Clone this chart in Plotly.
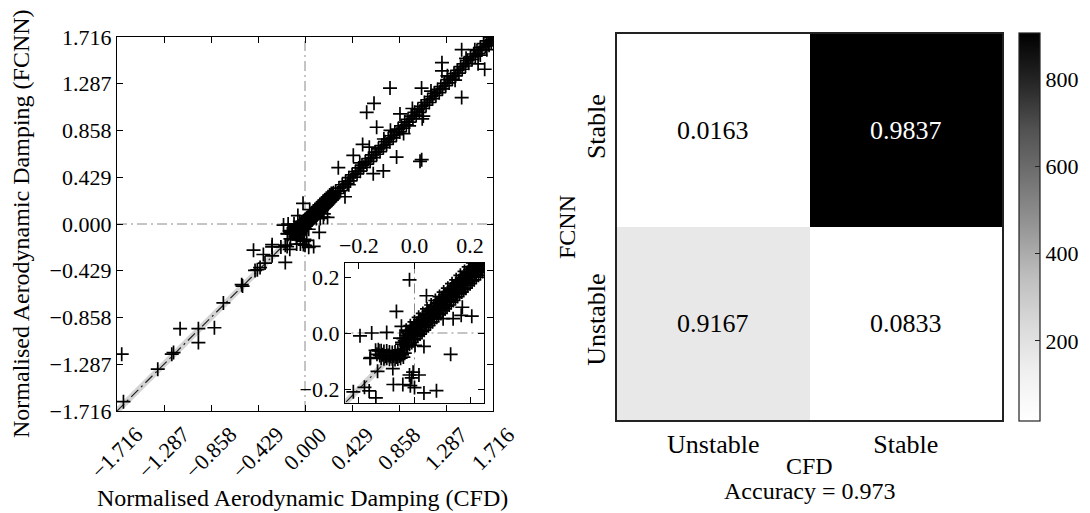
import plotly.graph_objects as go

# ---------------- data ----------------
axis_limit = 1.716
main_ticks = [-1.716, -1.287, -0.858, -0.429, 0.0, 0.429, 0.858, 1.287, 1.716]
main_tick_labels = ["−1.716", "−1.287", "−0.858", "−0.429", "0.000", "0.429", "0.858", "1.287", "1.716"]
inset_limit = 0.25
inset_ticks = [-0.2, 0.0, 0.2]

# dense band of predictions near the origin (CFD, FCNN)
band_origin = [
    (-0.04, -0.020), (-0.03, -0.008), (-0.02, 0.004), (-0.01, 0.014), (0.00, 0.026), (0.01, 0.035),
    (0.02, 0.047), (0.03, 0.056), (0.04, 0.066), (0.05, 0.077), (0.06, 0.087), (0.07, 0.096),
    (0.08, 0.106), (0.09, 0.117), (0.10, 0.127), (0.11, 0.136), (0.12, 0.146), (0.13, 0.157),
    (0.14, 0.166), (0.15, 0.176), (0.16, 0.187), (0.17, 0.196), (0.18, 0.206), (0.19, 0.217),
    (0.20, 0.226), (0.21, 0.236), (0.22, 0.247), (0.23, 0.256), (0.24, 0.266), (0.25, 0.277),
    (0.26, 0.286),
    (-0.045, -0.040), (-0.035, -0.028), (-0.025, -0.016), (-0.015, -0.004), (-0.005, 0.006),
    (0.005, 0.014), (0.015, 0.024), (0.025, 0.034), (0.035, 0.045), (0.045, 0.054), (0.055, 0.064),
    (0.065, 0.075), (0.075, 0.084), (0.085, 0.094), (0.095, 0.105), (0.105, 0.114), (0.115, 0.124),
    (0.125, 0.135), (0.135, 0.144), (0.145, 0.154), (0.155, 0.165), (0.165, 0.174), (0.175, 0.184),
    (0.185, 0.195), (0.195, 0.204), (0.205, 0.214), (0.215, 0.225), (0.225, 0.234), (0.235, 0.244),
    (0.245, 0.255), (0.255, 0.264),
    (-0.04, -0.058), (-0.03, -0.046), (-0.02, -0.034), (-0.01, -0.022), (0.00, -0.010), (0.01, 0.000),
    (0.02, 0.011), (0.03, 0.020), (0.04, 0.030), (0.05, 0.041), (0.06, 0.050), (0.07, 0.060),
    (0.08, 0.071), (0.09, 0.080), (0.10, 0.090), (0.11, 0.101), (0.12, 0.110), (0.13, 0.120),
    (0.14, 0.131), (0.15, 0.140), (0.16, 0.150), (0.17, 0.161), (0.18, 0.170), (0.19, 0.180),
    (0.20, 0.191), (0.21, 0.200), (0.22, 0.210), (0.23, 0.221), (0.24, 0.230), (0.25, 0.240),
    (0.26, 0.251),
    (-0.03, 0.010), (-0.015, 0.026), (0.0, 0.040), (0.015, 0.056), (0.03, 0.070), (0.045, 0.086),
    (0.06, 0.100), (0.075, 0.116), (0.09, 0.130), (0.105, 0.146), (0.12, 0.160), (0.135, 0.176),
    (0.15, 0.190), (0.165, 0.206), (0.18, 0.220), (0.195, 0.236), (0.21, 0.250), (0.225, 0.266),
    (0.24, 0.280),
    (-0.025, -0.050), (-0.01, -0.034), (0.005, -0.020), (0.02, -0.004), (0.035, 0.010), (0.05, 0.026),
    (0.065, 0.040), (0.08, 0.056), (0.095, 0.070), (0.11, 0.086), (0.125, 0.100), (0.14, 0.116),
    (0.155, 0.130), (0.17, 0.146), (0.185, 0.160), (0.20, 0.176), (0.215, 0.190), (0.23, 0.206),
    (0.245, 0.220), (0.26, 0.236),
    (-0.022, -0.002), (-0.007, 0.018), (0.008, 0.032), (0.023, 0.048), (0.038, 0.062), (0.053, 0.078),
    (0.068, 0.092), (0.083, 0.108), (0.098, 0.122), (0.113, 0.138), (0.128, 0.152), (0.143, 0.168),
    (0.158, 0.182), (0.173, 0.198), (0.188, 0.212), (0.203, 0.228), (0.218, 0.242), (0.233, 0.258),
    (0.248, 0.272),
    (-0.018, -0.040), (-0.003, -0.024), (0.012, -0.010), (0.027, 0.006), (0.042, 0.020), (0.057, 0.036),
    (0.072, 0.050), (0.087, 0.066), (0.102, 0.080), (0.117, 0.096), (0.132, 0.110), (0.147, 0.126),
    (0.162, 0.140), (0.177, 0.156), (0.192, 0.170), (0.207, 0.186), (0.222, 0.200), (0.237, 0.216),
    (0.252, 0.230),
]

# low-lying cluster of slightly unstable cases
cluster_low = [
    (-0.14, -0.062), (-0.13, -0.060), (-0.12, -0.063), (-0.11, -0.066), (-0.10, -0.064),
    (-0.09, -0.068), (-0.08, -0.070), (-0.07, -0.068), (-0.06, -0.066), (-0.05, -0.060),
    (-0.135, -0.076), (-0.125, -0.080), (-0.115, -0.078), (-0.105, -0.082), (-0.095, -0.080),
    (-0.085, -0.084), (-0.075, -0.082), (-0.065, -0.086), (-0.055, -0.082), (-0.045, -0.078),
    (-0.035, -0.072),
    (-0.12, -0.090), (-0.11, -0.092), (-0.10, -0.090), (-0.09, -0.094), (-0.08, -0.092),
    (-0.07, -0.095), (-0.06, -0.093), (-0.05, -0.090), (-0.04, -0.086),
]

# dense band away from the origin
band_main = [
    (0.28, 0.30), (0.31, 0.33), (0.34, 0.36), (0.37, 0.39), (0.40, 0.425), (0.43, 0.45),
    (0.46, 0.48), (0.49, 0.515), (0.52, 0.54), (0.55, 0.57), (0.58, 0.60), (0.61, 0.635),
    (0.64, 0.66), (0.67, 0.69), (0.70, 0.72), (0.73, 0.755), (0.76, 0.78), (0.79, 0.81),
    (0.82, 0.845), (0.85, 0.87), (0.88, 0.90), (0.91, 0.935), (0.94, 0.96), (0.97, 0.99),
    (1.00, 1.025), (1.03, 1.05), (1.06, 1.08), (1.09, 1.115), (1.12, 1.14), (1.15, 1.17),
    (1.18, 1.20), (1.21, 1.235), (1.24, 1.26), (1.27, 1.29), (1.30, 1.325), (1.33, 1.35),
    (1.36, 1.38), (1.39, 1.41), (1.42, 1.445), (1.45, 1.47), (1.48, 1.50), (1.51, 1.535),
    (1.54, 1.56), (1.57, 1.59), (1.60, 1.62), (1.63, 1.655), (1.66, 1.68), (1.69, 1.71),
    (1.72, 1.74),
    (0.295, 0.28), (0.325, 0.305), (0.355, 0.34), (0.385, 0.37), (0.415, 0.395), (0.445, 0.43),
    (0.475, 0.46), (0.505, 0.485), (0.535, 0.52), (0.565, 0.55), (0.595, 0.575), (0.625, 0.61),
    (0.655, 0.64), (0.685, 0.665), (0.715, 0.70), (0.745, 0.73), (0.775, 0.755), (0.805, 0.79),
    (0.835, 0.82), (0.865, 0.845), (0.895, 0.88), (0.925, 0.91), (0.955, 0.935), (0.985, 0.97),
    (1.015, 1.00), (1.045, 1.025), (1.075, 1.06), (1.105, 1.09), (1.135, 1.115), (1.165, 1.15),
    (1.195, 1.18), (1.225, 1.205), (1.255, 1.24), (1.285, 1.27), (1.315, 1.295), (1.345, 1.33),
    (1.375, 1.36), (1.405, 1.385), (1.435, 1.42), (1.465, 1.45), (1.495, 1.475), (1.525, 1.51),
    (1.555, 1.54), (1.585, 1.565), (1.615, 1.60), (1.645, 1.63), (1.675, 1.655), (1.705, 1.69),
    (1.60, 1.55), (1.66, 1.60), (1.55, 1.60), (1.68, 1.64), (1.70, 1.67), (1.47, 1.52),
    (1.08, 0.99), (1.07, 0.965), (0.90, 0.83), (0.78, 0.86), (0.72, 0.78), (0.98, 1.06),
    (1.15, 1.22), (1.30, 1.36), (1.37, 1.32), (0.50, 0.56), (0.40, 0.36), (0.95, 0.90),
]

# scattered points (CFD, FCNN)
outliers = [
    (-0.196, -0.010), (-0.154, 0.000), (-0.100, 0.002), (-0.018, 0.190), (0.043, 0.133),
    (-0.065, 0.077), (-0.047, 0.024), (0.130, -0.076), (0.002, -0.044), (0.034, -0.048),
    (-0.160, -0.091), (-0.133, -0.137), (-0.180, -0.194), (-0.163, -0.207), (-0.139, -0.232),
    (-0.078, -0.127), (-0.076, -0.184), (-0.042, -0.184), (-0.018, -0.150), (-0.005, -0.140),
    (0.016, -0.150), (-0.010, -0.160), (-0.015, -0.188), (0.000, -0.195), (0.034, -0.214),
    (0.079, -0.206), (0.139, 0.051), (0.103, 0.051), (0.168, 0.063), (0.172, 0.092),
    (0.206, 0.060), (-0.052, -0.018), (-0.045, -0.033), (-0.128, -0.064), (-0.158, -0.088),
    (1.43, 1.60), (1.25, 1.48), (1.25, 1.405), (1.64, 1.42), (1.58, 1.47), (1.43, 1.16),
    (0.776, 1.247), (1.064, 1.247), (0.563, 1.025), (0.63, 1.107), (0.654, 0.888),
    (0.867, 1.010), (0.526, 0.730), (0.587, 0.705), (0.441, 0.630), (0.304, 0.517),
    (0.623, 0.462), (0.715, 0.487), (0.836, 0.614), (1.050, 0.575), (1.065, 0.590),
    (0.365, 0.250), (-0.47, -0.24), (-0.38, -0.28), (-0.30, -0.21), (-0.18, -0.353),
    (-0.30, -0.19), (-0.22, -0.21), (-0.365, -0.359), (-0.435, -0.42), (-0.41, -0.40),
    (-0.578, -0.557), (-0.57, -0.57), (-0.745, -0.724), (-0.827, -0.952), (-0.973, -0.961),
    (-0.973, -1.088), (-1.14, -0.961), (-1.20, -1.18), (-1.216, -1.195), (-1.344, -1.332),
    (-1.673, -1.195), (-1.657, -1.63), (-0.456, -0.426), (-0.30, -0.292),
]

# confusion matrix (rows: FCNN Unstable, Stable; cols: CFD Unstable, Stable)
cfd_labels = ["Unstable", "Stable"]
fcnn_labels = ["Unstable", "Stable"]
counts = [[165, 15], [15, 905]]
fractions = [[0.9167, 0.0833], [0.0163, 0.9837]]
accuracy = 0.973

# ---------------- figure ----------------
W, H = 1090, 513
FONT = "Liberation Serif"


def px_x(x):
    return x / W


def px_y(y):
    return (H - y) / H


points = band_origin + cluster_low + band_main + outliers
cfd = [p[0] for p in points]
fcnn = [p[1] for p in points]

fig = go.Figure()

dashdot = "10px,4px,2px,4px"
for xa, ya in (("x", "y"), ("x2", "y2")):
    fig.add_trace(go.Scatter(x=[-axis_limit, axis_limit], y=[-axis_limit, axis_limit], mode="lines",
                             line=dict(color="#d4d4d4", width=6), xaxis=xa, yaxis=ya,
                             showlegend=False, hoverinfo="skip"))
    fig.add_trace(go.Scatter(x=[-axis_limit, axis_limit], y=[0, 0], mode="lines",
                             line=dict(color="#8a8a8a", width=1, dash=dashdot), xaxis=xa, yaxis=ya,
                             showlegend=False, hoverinfo="skip"))
    fig.add_trace(go.Scatter(x=[0, 0], y=[-axis_limit, axis_limit], mode="lines",
                             line=dict(color="#8a8a8a", width=1, dash=dashdot), xaxis=xa, yaxis=ya,
                             showlegend=False, hoverinfo="skip"))
    fig.add_trace(go.Scatter(x=[-axis_limit, axis_limit], y=[-axis_limit, axis_limit], mode="lines",
                             line=dict(color="#222222", width=1.2, dash=dashdot), xaxis=xa, yaxis=ya,
                             showlegend=False, hoverinfo="skip"))
    fig.add_trace(go.Scatter(x=cfd, y=fcnn, mode="markers",
                             marker=dict(symbol="cross-thin", size=10, color="black",
                                         line=dict(color="black", width=1.7)),
                             xaxis=xa, yaxis=ya, showlegend=False, cliponaxis=True))

greys = [[0.0, "#ffffff"], [0.125, "#f0f0f0"], [0.25, "#d9d9d9"], [0.375, "#bdbdbd"],
         [0.5, "#969696"], [0.625, "#737373"], [0.75, "#525252"], [0.875, "#252525"], [1.0, "#000000"]]

fig.add_trace(go.Heatmap(
    z=counts, x=cfd_labels, y=fcnn_labels, colorscale=greys, xaxis="x3", yaxis="y3",
    colorbar=dict(x=px_x(1019), xanchor="left", xpad=0, y=px_y(227.5), yanchor="middle",
                  len=388 / H, lenmode="fraction", ypad=0, thickness=21, thicknessmode="pixels",
                  outlinewidth=1.2, outlinecolor="#222222", ticks="inside", ticklen=5,
                  tickcolor="#222222", tickvals=[200, 400, 600, 800],
                  tickfont=dict(family=FONT, size=22, color="black")),
    hoverinfo="skip"))

zmid = (min(min(r) for r in counts) + max(max(r) for r in counts)) / 2
annotations = []
for i, yl in enumerate(fcnn_labels):
    for j, xl in enumerate(cfd_labels):
        annotations.append(dict(x=xl, y=yl, xref="x3", yref="y3", text=f"{fractions[i][j]:.4f}",
                                showarrow=False, xanchor="center", yanchor="middle",
                                font=dict(family=FONT, size=26,
                                          color="white" if counts[i][j] > zmid else "black")))

# rotated x tick labels of the main panel
for v, lab in zip(main_ticks, main_tick_labels):
    annotations.append(dict(x=v, xref="x", y=px_y(419), yref="paper", text=lab, textangle=-45,
                            xanchor="center", yanchor="top", showarrow=False,
                            font=dict(family=FONT, size=22, color="black")))


def label(x, y, text, angle=0, size=24):
    return dict(x=px_x(x), y=px_y(y), xref="paper", yref="paper", showarrow=False, text=text,
                textangle=angle, xanchor="center", yanchor="middle",
                font=dict(family=FONT, size=size, color="black"))


annotations += [
    label(302, 498, "Normalised Aerodynamic Damping (CFD)"),
    label(21, 224, "Normalised Aerodynamic Damping (FCNN)", angle=-90),
    label(809.5, 466, "CFD"),
    label(809.5, 491, f"Accuracy = {accuracy:.3f}"),
    label(567, 227, "FCNN", angle=-90),
]

common = dict(showgrid=False, zeroline=False, showline=True, linecolor="black", linewidth=1.3,
              ticks="inside", ticklen=6, tickwidth=1, tickcolor="black", mirror="ticks",
              automargin=False, tickfont=dict(family=FONT, size=22, color="black"))

fig.update_layout(
    width=W, height=H, autosize=False, template="none",
    margin=dict(l=0, r=0, t=0, b=0),
    paper_bgcolor="white", plot_bgcolor="white",
    font=dict(family=FONT, color="black"),
    xaxis=dict(domain=[px_x(117), px_x(493)], range=[-axis_limit, axis_limit], tickvals=main_ticks,
               showticklabels=False, anchor="y", **common),
    yaxis=dict(domain=[px_y(411), px_y(37)], range=[-axis_limit, axis_limit], tickvals=main_ticks,
               tickformat=".3f", anchor="x", **common),
    xaxis2=dict(domain=[px_x(345), px_x(484)], range=[-inset_limit, inset_limit], tickvals=inset_ticks,
                tickformat=".1f", side="top", anchor="y2", **common),
    yaxis2=dict(domain=[px_y(403), px_y(263)], range=[-inset_limit, inset_limit], tickvals=inset_ticks,
                tickformat=".1f", anchor="x2", **common),
    xaxis3=dict(domain=[px_x(617), px_x(1002)], anchor="y3", showgrid=False, zeroline=False,
                showline=True, mirror=True, linecolor="#222222", linewidth=1.5, ticks="",
                automargin=False, tickfont=dict(family=FONT, size=26, color="black")),
    yaxis3=dict(domain=[px_y(420), px_y(34)], anchor="x3", showgrid=False, zeroline=False,
                showline=True, mirror=True, linecolor="#222222", linewidth=1.5, ticks="",
                tickangle=-90, automargin=False, tickfont=dict(family=FONT, size=26, color="black")),
    annotations=annotations,
)

fig.write_html("out.html", config={"displayModeBar": False},
               post_script="document.body.style.margin='0px';document.body.style.overflow='hidden';")
